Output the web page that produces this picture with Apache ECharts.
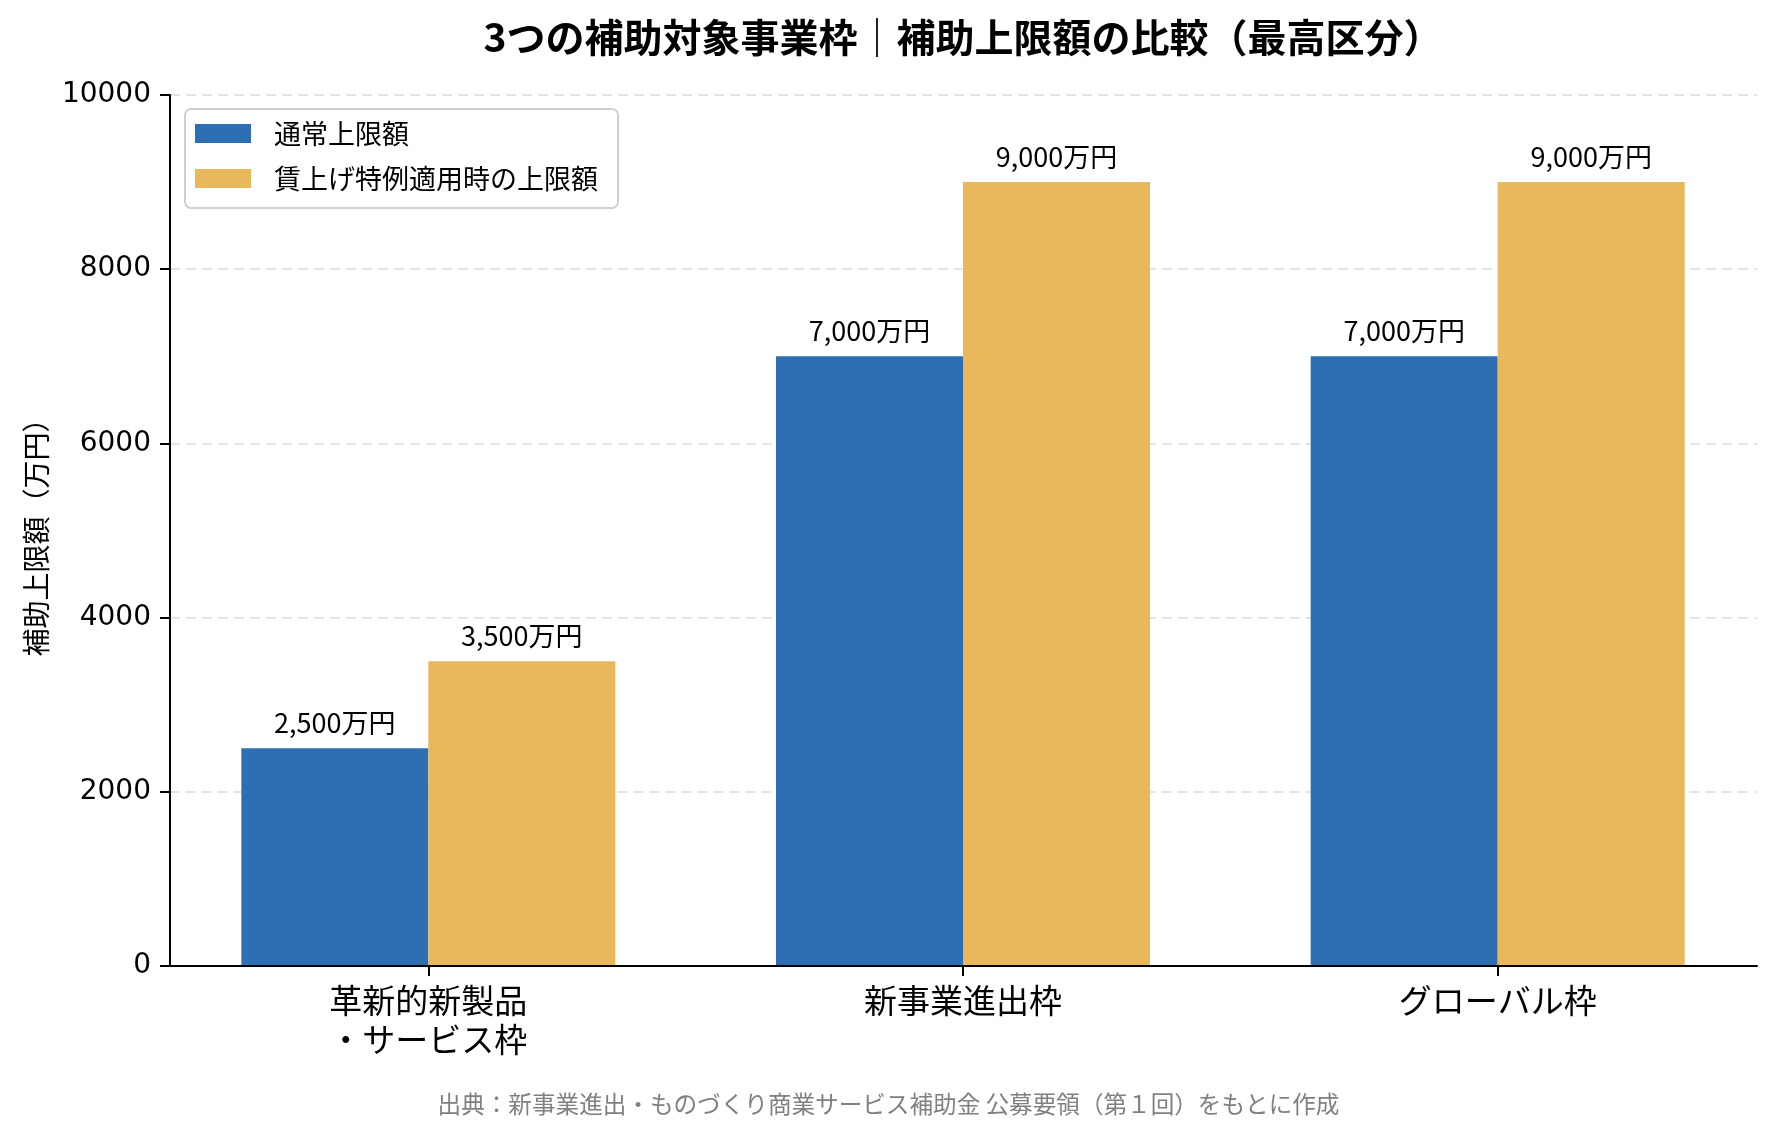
<!DOCTYPE html>
<html>
<head>
<meta charset="utf-8">
<script src="https://cdn.jsdelivr.net/npm/echarts@6/dist/echarts.min.js"></script>
<style>
html,body{margin:0;padding:0;background:#fff;}
#chart{width:1777px;height:1137px;}
</style>
</head>
<body>
<div id="chart"></div>
<script>
const titleText = '3つの補助対象事業枠｜補助上限額の比較（最高区分）';
const sourceText = '出典：新事業進出・ものづくり商業サービス補助金 公募要領（第１回）をもとに作成';
const yAxisName = '補助上限額（万円）';
const categories = ['革新的新製品\n・サービス枠', '新事業進出枠', 'グローバル枠'];
const seriesNames = ['通常上限額', '賃上げ特例適用時の上限額'];
const normalLimit = [2500, 7000, 7000];
const wageLimit = [3500, 9000, 9000];
const yMin = 0, yMax = 10000, yStep = 2000;

const CJK = '"Noto Sans CJK JP", "Noto Sans", sans-serif';
const fmt = v => String(v).replace(/\B(?=(\d{3})+(?!\d))/g, ',') + '万円';

const chart = echarts.init(document.getElementById('chart'));
const labelCfg = {
  show: true, position: 'top', distance: 12,
  fontFamily: CJK, fontSize: 27, color: '#000',
  formatter: p => fmt(p.value)
};
chart.setOption({
  backgroundColor: '#fff',
  animation: false,
  title: [
    { text: titleText, left: 958, top: 13, textAlign: 'center',
      textStyle: { fontFamily: CJK, fontSize: 39, fontWeight: 'bold', color: '#000' } },
    { text: sourceText, left: 'center', top: 1087,
      textStyle: { fontFamily: CJK, fontSize: 23.6, fontWeight: 'normal', color: '#808080' } }
  ],
  legend: {
    orient: 'vertical', left: 185, top: 109,
    padding: [11, 20, 16, 10],
    itemWidth: 56, itemHeight: 19, itemGap: 18, icon: 'rect',
    backgroundColor: '#fff', borderColor: '#d0d0d0', borderWidth: 2, borderRadius: 6,
    textStyle: { fontFamily: CJK, fontSize: 27, color: '#000', lineHeight: 20, padding: [0, 0, 0, 18] },
    data: seriesNames
  },
  grid: [
    { left: 170, right: 20, top: 95, bottom: 171 },
    { left: 161, right: 12, top: 95, bottom: 171 }
  ],
  xAxis: [
    { type: 'value', gridIndex: 0, min: 0, max: 1, z: 10,
      axisLine: { show: true, lineStyle: { color: '#000', width: 2 } },
      axisTick: { show: false }, axisLabel: { show: false }, splitLine: { show: false } },
    { type: 'category', gridIndex: 1, data: categories,
      axisLine: { show: false },
      axisTick: { show: true, alignWithLabel: true, length: 10, lineStyle: { color: '#000', width: 2 } },
      axisLabel: { margin: 15, fontFamily: CJK, fontSize: 33, color: '#000', lineHeight: 39 } }
  ],
  yAxis: [
    { type: 'value', gridIndex: 0, min: yMin, max: yMax, interval: yStep,
      name: yAxisName, nameLocation: 'middle', nameGap: 120,
      nameTextStyle: { fontFamily: CJK, fontSize: 28, color: '#000' },
      axisLine: { show: true, lineStyle: { color: '#000', width: 2 } },
      axisTick: { show: true, length: 10, lineStyle: { color: '#000', width: 2 } },
      axisLabel: { margin: 19, fontFamily: '"DejaVu Sans", sans-serif', fontSize: 28, color: '#000',
        formatter: v => String(v) },
      splitLine: { show: true, lineStyle: { color: '#dcdcdc', width: 1.5, type: [10, 6] } } },
    { type: 'value', gridIndex: 1, min: yMin, max: yMax, interval: yStep,
      axisLine: { show: false }, axisTick: { show: false }, axisLabel: { show: false }, splitLine: { show: false } }
  ],
  series: [
    { name: seriesNames[0], type: 'bar', xAxisIndex: 1, yAxisIndex: 1, data: normalLimit,
      barWidth: 187, barGap: '0%', itemStyle: { color: '#2E6FB3' }, label: labelCfg },
    { name: seriesNames[1], type: 'bar', xAxisIndex: 1, yAxisIndex: 1, data: wageLimit,
      barWidth: 187, barGap: '0%', itemStyle: { color: '#E8B85B' }, label: labelCfg }
  ]
});
</script>
</body>
</html>
